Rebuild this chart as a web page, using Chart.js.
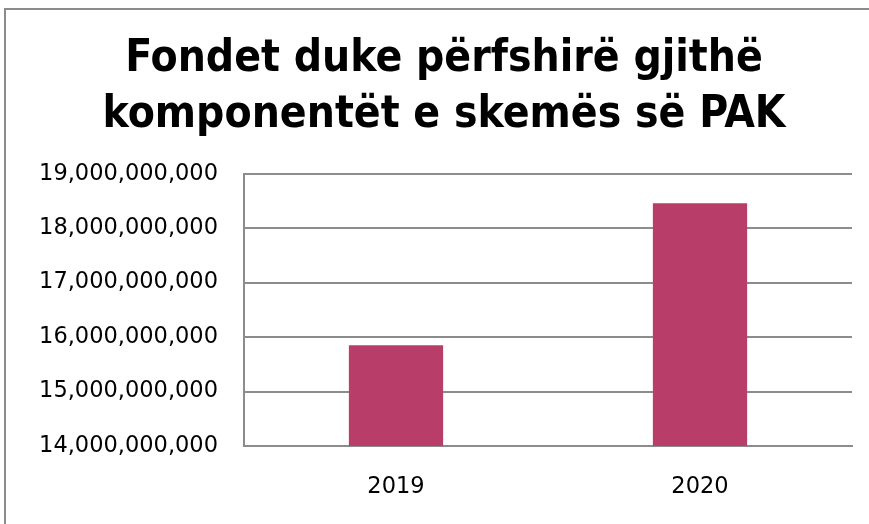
<!DOCTYPE html>
<html>
<head>
<meta charset="utf-8">
<script src="https://cdn.jsdelivr.net/npm/chart.js@4"></script>
<style>
  html, body { margin: 0; padding: 0; background: #ffffff; }
  #wrap { position: relative; width: 869px; height: 524px; }
  canvas { display: block; }
</style>
</head>
<body>
<div id="wrap"><canvas id="c" width="869" height="524"></canvas></div>
<script>
const titleLines = ["Fondet duke përfshirë gjithë", "komponentët e skemës së PAK"];
const categories = ["2019", "2020"];
const values = [15850000000, 18460000000];
const yMin = 14000000000;
const yMax = 19000000000;
const yStep = 1000000000;

const framePlugin = {
  id: 'frame',
  beforeDraw(chart) {
    const ctx = chart.ctx;
    ctx.save();
    ctx.strokeStyle = '#8c8c8c';
    ctx.lineWidth = 2;
    ctx.beginPath();
    ctx.moveTo(5, 524);
    ctx.lineTo(5, 9);
    ctx.lineTo(869, 9);
    ctx.stroke();
    ctx.restore();
  }
};

const tickFont = { family: "'DejaVu Sans', sans-serif", size: 22.5 };

new Chart(document.getElementById('c'), {
  type: 'bar',
  data: {
    labels: categories,
    datasets: [{
      data: values,
      backgroundColor: '#b83e69',
      borderWidth: 0,
      barPercentage: 0.62,
      categoryPercentage: 0.5
    }]
  },
  options: {
    responsive: false,
    animation: false,
    layout: { padding: { left: 36, right: 17, top: 0, bottom: 0 } },
    plugins: {
      legend: { display: false },
      tooltip: { enabled: false },
      title: {
        display: true,
        text: titleLines,
        color: '#000000',
        font: { family: "'DejaVu Sans Condensed', 'DejaVu Sans', sans-serif", size: 44, weight: 'bold', lineHeight: 1.27 },
        padding: { top: 32, bottom: 30 }
      }
    },
    scales: {
      x: {
        grid: { display: false, drawTicks: false },
        border: { display: true, color: '#8c8c8c', width: 2 },
        ticks: { color: '#000000', font: tickFont, padding: 28 },
        afterFit(scale) { scale.height = 78; }
      },
      y: {
        min: yMin,
        max: yMax,
        ticks: {
          stepSize: yStep,
          color: '#000000',
          font: tickFont,
          padding: 26,
          callback: (v) => Number(v).toLocaleString('en-US')
        },
        grid: { color: '#8c8c8c', lineWidth: 2, drawTicks: false },
        border: { display: true, color: '#8c8c8c', width: 2 },
        afterFit(scale) { scale.width = 208; }
      }
    }
  },
  plugins: [framePlugin]
});
</script>
</body>
</html>
